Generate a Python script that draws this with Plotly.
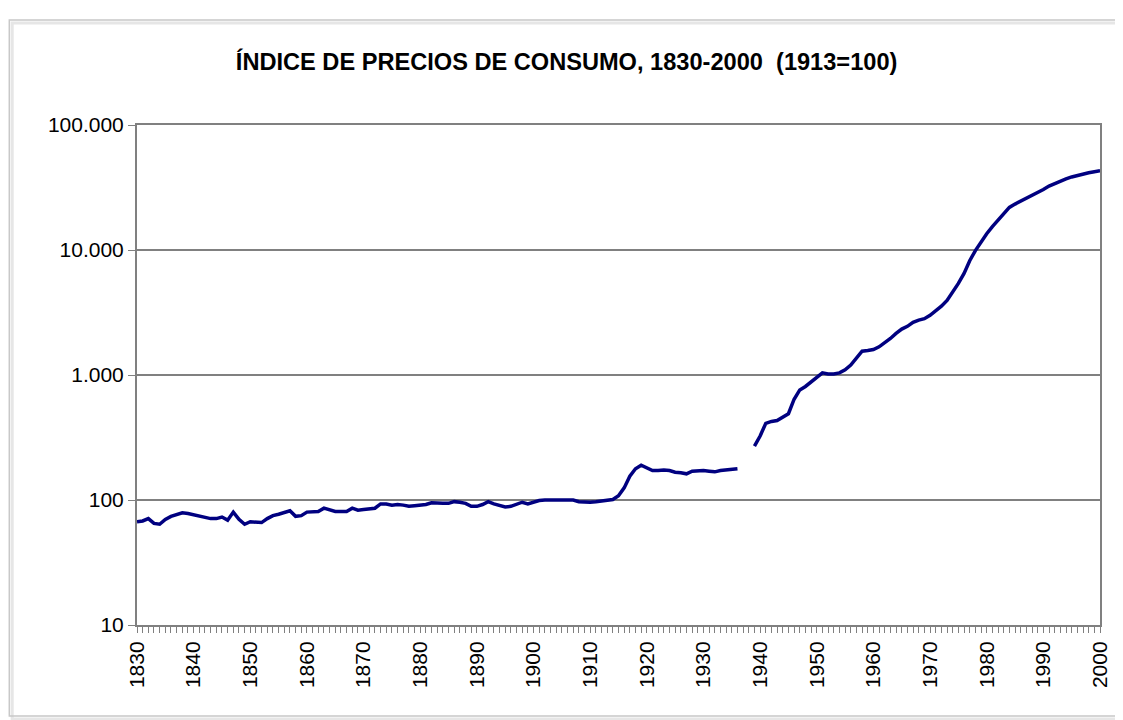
import plotly.graph_objects as go

# Indice de precios de consumo (1913=100), lectura anual aproximada
years = list(range(1830, 2001))

ipc_1830_1870 = [67, 68, 71, 65, 64, 70, 74, 76, 79, 78,
                 76, 74, 72, 71, 71, 73, 69, 80, 70, 64,
                 67, 67, 66, 71, 75, 77, 80, 82, 74, 75,
                 80, 81, 81, 86, 83, 81, 81, 81, 86, 83,
                 84]
ipc_1871_1910 = [85, 86, 93, 93, 91, 92, 91, 89, 90, 91,
                 92, 95, 94, 94, 94, 97, 96, 94, 89, 89,
                 92, 97, 93, 90, 88, 89, 93, 96, 93, 96,
                 99, 100, 100, 100, 100, 100, 100, 97, 96, 96]
ipc_1911_1938 = [97, 98, 100, 101, 108, 125, 155, 178, 190, 180,
                 172, 172, 174, 172, 167, 165, 162, 170, 172, 172,
                 170, 168, 172, 174, 174, 178, None, None]
ipc_1939_1970 = [270, 325, 410, 425, 432, 460, 490, 640, 760, 810,
                 880, 960, 1040, 1020, 1020, 1040, 1100, 1200, 1370, 1550,
                 1570, 1600, 1680, 1800, 1960, 2150, 2330, 2450, 2640, 2750,
                 2820, 3000]
ipc_1971_2000 = [3250, 3550, 3950, 4600, 5400, 6500, 8200, 9900, 11700, 13500,
                 15400, 17300, 19700, 21900, 23300, 24500, 25800, 27100, 28800, 30500,
                 32500, 34100, 35700, 37000, 38400, 39600, 40700, 41500, 42300, 43000]

ipc = ipc_1830_1870 + ipc_1871_1910 + ipc_1911_1938 + ipc_1939_1970 + ipc_1971_2000

y_tickvals = [10, 100, 1000, 10000, 100000]
y_ticktext = ["10", "100", "1.000", "10.000", "100.000"]
x_tickvals = list(range(1830, 2001, 10))

FONT = "Liberation Sans, Arial, sans-serif"

fig = go.Figure()
fig.add_trace(go.Scatter(
    x=years, y=ipc,
    mode="lines",
    line=dict(color="#000080", width=3.5),
    connectgaps=False,
    showlegend=False,
))

# la pagina tiene 8px de margen en el body: se descuentan aqui
fig.update_layout(
    width=1115, height=712,
    margin=dict(l=129, r=21, t=117, b=95),
    paper_bgcolor="white",
    plot_bgcolor="white",
    font=dict(family=FONT, color="black", size=21),
    title=dict(
        text="<b>ÍNDICE DE PRECIOS DE CONSUMO, 1830-2000  (1913=100)</b>",
        x=0.501, xref="container", xanchor="center",
        y=1 - 54 / 712, yref="container", yanchor="middle",
        font=dict(size=23.6, family=FONT),
    ),
    xaxis=dict(
        range=[1830, 2000],
        tickvals=x_tickvals,
        tickangle=-90,
        ticks="outside", ticklen=6, tickcolor="#808080",
        minor=dict(ticks="outside", dtick=1, tick0=1830, ticklen=6, tickcolor="#808080"),
        showline=True, linecolor="#808080", linewidth=2, mirror=True,
        showgrid=False, zeroline=False,
    ),
    yaxis=dict(
        type="log",
        range=[1, 5],
        tickvals=y_tickvals,
        ticktext=y_ticktext,
        ticks="outside", ticklen=7, tickcolor="#808080",
        showline=True, linecolor="#808080", linewidth=2, mirror=True,
        showgrid=True, gridcolor="#808080", gridwidth=1.5,
        zeroline=False,
    ),
)

# marco del grafico con una sombra suave
fig.add_shape(type="rect", xref="paper", yref="paper",
              x0=-0.1296, x1=1.0206, y0=-0.188, y1=1.204,
              line=dict(color="#e6e6e6", width=3), layer="below")
fig.add_shape(type="rect", xref="paper", yref="paper",
              x0=-0.1326, x1=1.0176, y0=-0.182, y1=1.21,
              line=dict(color="#c8c8c8", width=1.5), layer="below")

fig.write_html("out.html")
